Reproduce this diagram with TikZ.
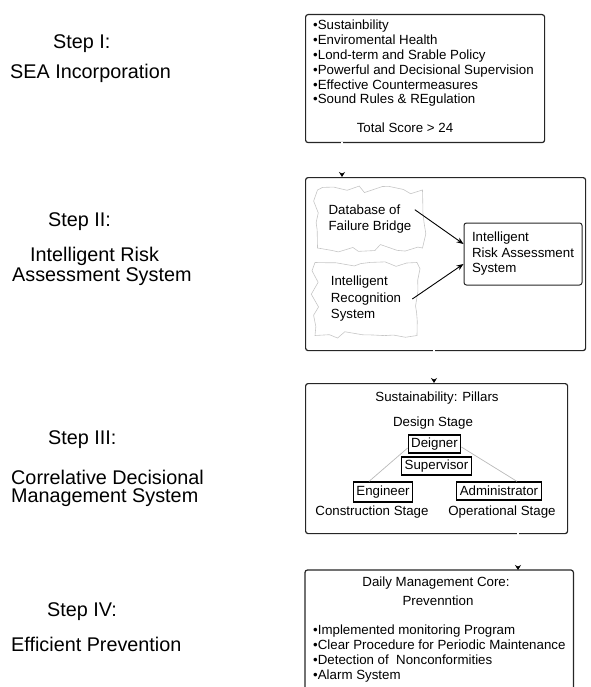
\documentclass[tikz,border=0pt]{standalone}
\usepackage{fontspec}
\setmainfont{Liberation Sans}
\usetikzlibrary{arrows.meta,decorations.pathmorphing}

\begin{document}
\begin{tikzpicture}[x=1pt,y=-1pt,
        steptxt/.style={inner sep=0pt,anchor=west,font=\fontsize{19.8}{18}\selectfont},
        boxtxt/.style={inner sep=0pt,font=\fontsize{13.3}{14.8}\selectfont},
        frame/.style={draw=black!85,line width=1.2pt,rounded corners=2.5pt},
        cloudbox/.style={draw=gray!45,line width=0.6pt,decorate,
          decoration={random steps,segment length=11pt,amplitude=4pt},
          align=left,inner sep=0pt,font=\fontsize{13.3}{16.5}\selectfont},
        rolebox/.style={draw=black,line width=1.2pt,inner xsep=3pt,inner ysep=0pt,
          minimum height=18pt,font=\fontsize{13.3}{16}\selectfont},
        link/.style={draw=white,line width=1.6pt,shorten <=-1pt,
          -{Stealth[black,length=5pt,width=6pt]}},
        feed/.style={line width=0.9pt,-{Stealth[length=7pt,width=5.5pt]}},
        pillar/.style={draw=gray!55,line width=0.7pt}]
        \useasboundingbox (0,0) rectangle (590,687);
        \pgfmathsetseed{17}
        % left column
        \node[steptxt] (s1) at (53,43.5) {Step I:};
        \node[steptxt] (s1t) at (10,73) {SEA Incorporation};
        \node[steptxt] (s2) at (48,222) {Step II:};
        \node[steptxt] (s2a) at (30,256) {Intelligent Risk};
        \node[steptxt] (s2b) at (12,277) {Assessment System};
        \node[steptxt] (s3) at (48,440) {Step III:};
        \node[steptxt] (s3a) at (11,477.5) {Correlative Decisional};
        \node[steptxt] (s3b) at (11,498) {Management System};
        \node[steptxt] (s4) at (47,611.5) {Step IV:};
        \node[steptxt] (s4t) at (11,644) {Efficient Prevention};
        % step I
        \node[frame,anchor=north west,minimum width=239pt,minimum height=128pt] (sea) at (305,14) {};
        \node[boxtxt,anchor=north west,align=left] (sealist) at (313,20)
          {\textbullet Sustainbility\\\textbullet Enviromental Health\\\textbullet Lond-term and Srable Policy\\
           \textbullet Powerful and Decisional Supervision\\\textbullet Effective Countermeasures\\
           \textbullet Sound Rules \& REgulation};
        \node[boxtxt] (score) at (405,128) {Total Score > 24};
        % step II
        \node[frame,anchor=north west,minimum width=280pt,minimum height=173pt] (irasys) at (305,177) {};
        \node[cloudbox,minimum width=105pt,minimum height=58pt] (dfb) at (370,219) {Database of\\Failure Bridge};
        \node[cloudbox,minimum width=102pt,minimum height=73pt] (irs) at (366,299) {Intelligent\\Recognition\\System};
        \node[frame,line width=1pt,minimum width=118pt,minimum height=62pt,align=left,inner sep=0pt,
          font=\fontsize{13.3}{15.5}\selectfont] (risk) at (523,254) {Intelligent\\Risk Assessment\\System};
        \draw[feed] ([xshift=-8pt]dfb.10) -- ([yshift=10pt]risk.west);
        \draw[feed] ([xshift=-5pt]irs.east) -- ([yshift=-10pt]risk.west);
        % step III
        \node[frame,anchor=north west,minimum width=262pt,minimum height=150pt] (cdms) at (305,383) {};
        \node[boxtxt] (pillars) at (437,398) {Sustainability: Pillars};
        \node[boxtxt] (design) at (433,423) {Design Stage};
        \node[rolebox] (deigner) at (434.5,444) {Deigner};
        \node[rolebox] (superv) at (436.5,466) {Supervisor};
        \node[rolebox,minimum height=20pt] (engin) at (383,492) {Engineer};
        \node[rolebox] (admin) at (499,491) {Administrator};
        \node[boxtxt] (constr) at (372,512) {Construction Stage};
        \node[boxtxt] (operat) at (502,512) {Operational Stage};
        \draw[pillar] ([yshift=-4pt]deigner.west) -- ([xshift=-14pt]engin.north);
        \draw[pillar] ([yshift=-3pt]deigner.east) -- ([xshift=18pt]admin.north);
        % step IV
        \node[anchor=north west,minimum width=268pt,minimum height=117pt,inner sep=0pt] (dmc) at (305,570) {};
        \draw[frame] (dmc.south west) -- (dmc.north west) -- (dmc.north east) -- (dmc.south east);
        \node[boxtxt] (core) at (436,583) {Daily Management Core:};
        \node[boxtxt] (prevn) at (438,601) {Prevenntion};
        \node[boxtxt,anchor=north west,align=left,font=\fontsize{13.3}{15}\selectfont] (prevlist) at (313,625)
          {\textbullet Implemented monitoring Program\\\textbullet Clear Procedure for Periodic Maintenance\\
           \textbullet Detection of\ \ Nonconformities\\\textbullet Alarm System};
        % links between the steps
        \draw[link] (sea.south -| 342,0) -- (irasys.north -| 342,0);
        \draw[link] (irasys.south -| 434,0) -- (cdms.north -| 434,0);
        \draw[link] (cdms.south -| 518,0) -- (dmc.north -| 518,0);
      \end{tikzpicture}
\end{document}
